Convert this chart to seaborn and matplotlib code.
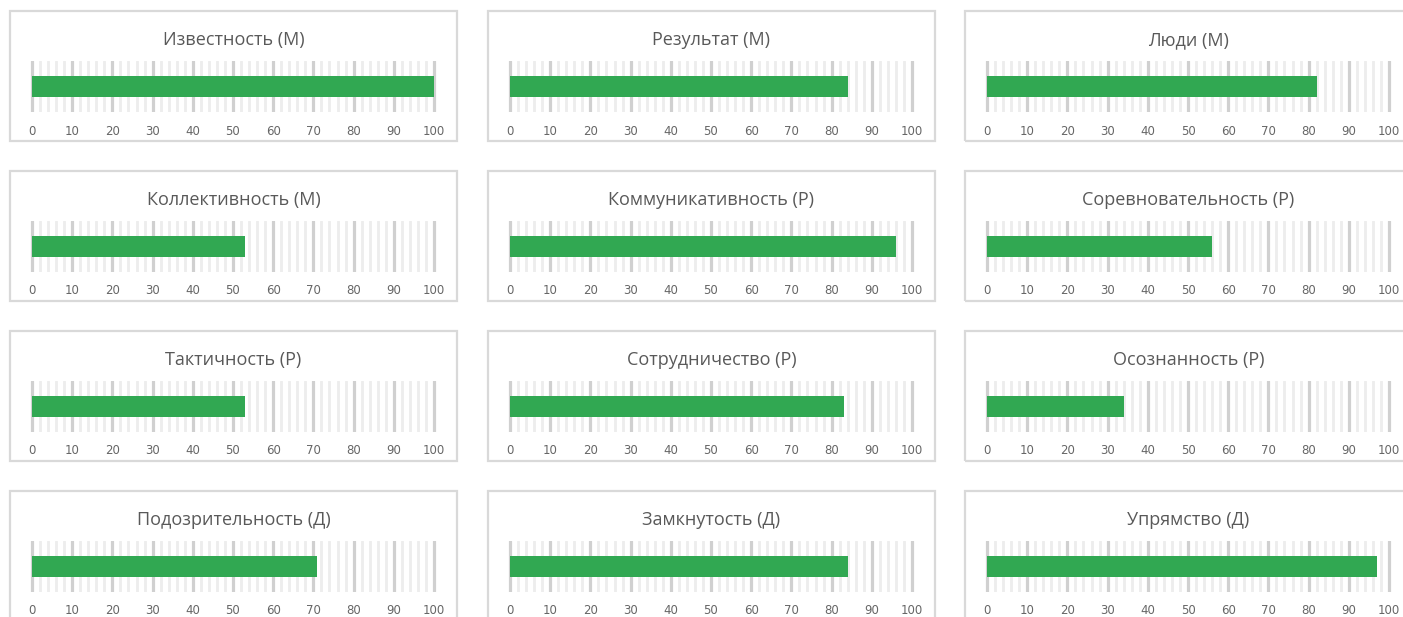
import matplotlib
matplotlib.use("Agg")
import matplotlib.pyplot as plt
from matplotlib.patches import Rectangle
import seaborn as sns
import pandas as pd

# values
names = [
    "Известность (М)", "Результат (М)", "Люди (М)",
    "Коллективность (М)", "Коммуникативность (Р)", "Соревновательность (Р)",
    "Тактичность (Р)", "Сотрудничество (Р)", "Осознанность (Р)",
    "Подозрительность (Д)", "Замкнутость (Д)", "Упрямство (Д)",
]
values = [100, 84, 82, 53, 96, 56, 53, 83, 34, 71, 84, 97]
tick_values = [0, 10, 20, 30, 40, 50, 60, 70, 80, 90, 100]
minor_values = [v for v in range(0, 101, 2) if v % 10 != 0]

df = pd.DataFrame({"name": names, "value": values})

sns.set_style("white")
plt.rcParams["font.family"] = ["Open Sans", "DejaVu Sans"]

W, H = 1403, 617
fig = plt.figure(figsize=(W / 100, H / 100), dpi=100)

bar_color = "#31a852"
text_color = "#595959"
major_grid = "#d0d0d0"
minor_grid = "#ededed"

col_zero = [32, 510, 987]      # pixel of value 0 in each column
box_left = [10, 488, 965]
px_per_unit = 4.02

for i, row in df.iterrows():
    r, c = divmod(i, 3)
    top = 11 + 160 * r

    # panel frame
    fig.add_artist(Rectangle((box_left[c] / W, 1 - (top + 130) / H), 447 / W, 130 / H,
                             transform=fig.transFigure, fill=False,
                             edgecolor="#d9d9d9", linewidth=1.6))
    fig.text((box_left[c] + 223.5) / W, 1 - (top + 29) / H, row["name"],
             ha="center", va="center", fontsize=13, color=text_color)

    # plot area
    ax_left = col_zero[c] - 1.5 * px_per_unit
    ax_w = 103 * px_per_unit
    ax_top = top + 50
    ax_h = 51
    ax = fig.add_axes([ax_left / W, 1 - (ax_top + ax_h) / H, ax_w / W, ax_h / H])
    sns.barplot(data=df.iloc[[i]], x="value", y="name", color=bar_color,
                width=0.41, saturation=1, linewidth=0, ax=ax, zorder=3)
    ax.set_xlim(-1.5, 101.5)
    ax.set_ylim(0.5, -0.5)
    for v in minor_values:
        ax.axvline(v, color=minor_grid, linewidth=2.0, zorder=1)
    for v in tick_values:
        ax.axvline(v, color=major_grid, linewidth=2.3, zorder=2)
    ax.set_xticks(tick_values)
    ax.set_xticklabels([str(v) for v in tick_values], family="DejaVu Sans")
    ax.tick_params(axis="x", length=0, pad=9, labelsize=8.5, labelcolor="#666666")
    ax.set_yticks([])
    ax.set_xlabel("")
    ax.set_ylabel("")
    for s in ax.spines.values():
        s.set_visible(False)

fig.savefig("out.png", dpi=100)
